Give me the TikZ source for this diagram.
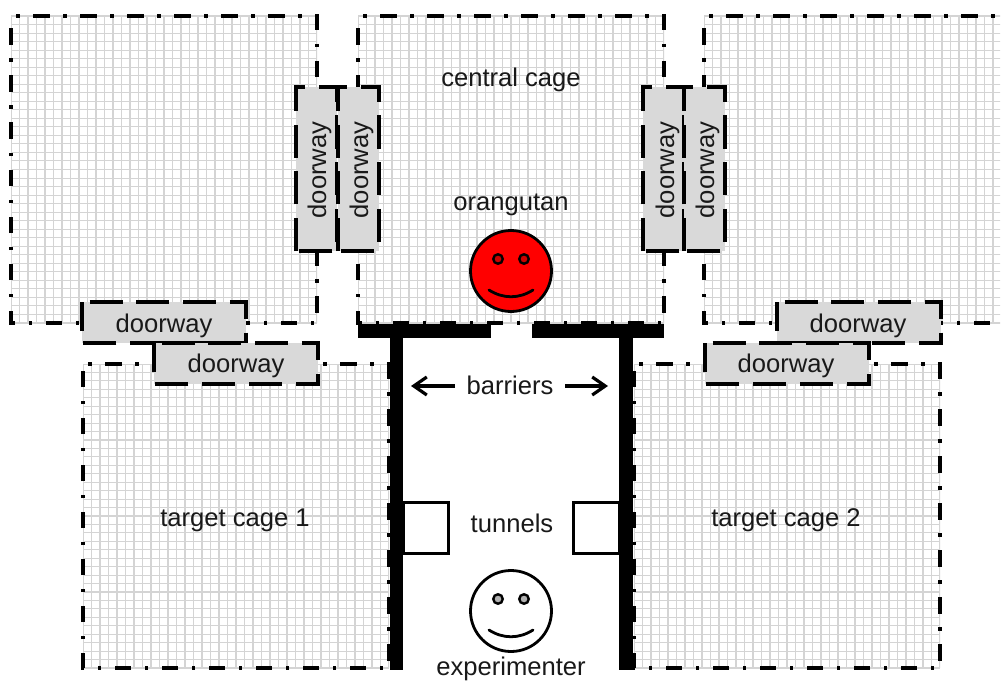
\documentclass[tikz,border=0pt]{standalone}
\usepackage{fontspec}
\setmainfont{Liberation Sans}
\newcommand{\roomcage}[4]{%
  % #1,#2 top-left; #3 width; #4 height
  \begin{scope}
    \clip (#1,#2) rectangle ({min(#1+#3,1000)},#2+#4);
    \fill[white] (#1,#2) rectangle (#1+#3,#2+#4);
    \foreach \i in {0,...,36} {
      \draw[gridline] ({#1+\i*#3/36},#2) -- ({#1+\i*#3/36},#2+#4);
      \draw[gridline] (#1,{#2+\i*#4/36}) -- (#1+#3,{#2+\i*#4/36});
    }
  \end{scope}
  \draw[cageline] (#1,#2) -- (#1+#3,#2) -- (#1+#3,#2+#4) -- (#1,#2+#4) -- cycle;
}
\newcommand{\doorh}[2]{%
  \fill[doorfill] (#1,#2) rectangle (#1+164,#2+41);
  \draw[doorline,dash phase=39] (#1,#2) -- (#1+164,#2) -- (#1+164,#2+41) -- (#1,#2+41) -- cycle;
}
\newcommand{\doorv}[2]{%
  \fill[doorfill] (#1,#2) rectangle (#1+41,#2+164);
  \draw[doorline,dash phase=0] (#1,#2+164) -- (#1,#2) -- (#1+41,#2) -- (#1+41,#2+164) -- cycle;
}
\newcommand{\smiley}[5]{%
  % #1 name, #2 x, #3 y, #4 fill, #5 eye fill
  \node[face,fill=#4] (#1) at (#2,#3) {};
  \node[eye,fill=#5] (#1eyeL) at (#2-13,#3-12) {};
  \node[eye,fill=#5] (#1eyeR) at (#2+13,#3-12) {};
  \draw[mouth] (#2-22,#3+19) .. controls (#2-8,#3+28) and (#2+8,#3+28) .. (#2+22,#3+19);
}
\tikzset{
  gridline/.style={draw=black!17,line width=1.05pt},
  cageline/.style={draw=black,line width=3.6pt,dash pattern=on 16.5pt off 13.5pt on 3.5pt off 13.5pt,dash phase=25pt,line join=miter},
  doorfill/.style={fill=black!15},
  doorline/.style={draw=black,line width=3.6pt,dash pattern=on 33pt off 13.7pt,line join=miter},
  barrier/.style={fill=black},
  tunnelbox/.style={draw=black,line width=3pt,fill=white},
  face/.style={circle,draw=black,line width=2.8pt,minimum size=81pt,inner sep=0pt},
  eye/.style={circle,draw=black,line width=2.4pt,minimum size=9.5pt,inner sep=0pt},
  mouth/.style={draw=black,line width=2.8pt,line cap=round},
  lab/.style={font=\fontsize{25.6pt}{28pt}\selectfont,text=black!90,inner sep=0pt,anchor=base},
  pointer/.style={draw=black,line width=3.2pt,-{Straight Barb[length=13pt,width=18pt,line width=3.2pt]}},
}
\usetikzlibrary{arrows.meta}
\begin{document}
\begin{tikzpicture}[x=1pt,y=-1pt]
\useasboundingbox (0,0) rectangle (1003,682);
\fill[white] (0,0) rectangle (1003,682);
\roomcage{11}{16}{306}{307}
\roomcage{358}{16}{306}{307}
\roomcage{704}{16}{306}{307}
\roomcage{83}{364}{306}{304}
\roomcage{634}{364}{306}{304}
\doorv{296}{87}
\doorv{338}{87}
\doorv{643}{87}
\doorv{684}{87}
\doorh{82}{302}
\doorh{154}{343}
\doorh{777}{302}
\doorh{705}{343}
% tunnels
\draw[tunnelbox] (403,502) rectangle (448,553);
\draw[tunnelbox] (573,502) rectangle (619,553);
% barriers
\fill[barrier] (358,324) rectangle (491,338);
\fill[barrier] (532,324) rectangle (664,338);
\fill[barrier] (390,324) rectangle (403,670);
\fill[barrier] (619,324) rectangle (633,670);
% faces
\smiley{orang}{511}{271}{red}{red!80!black}
\smiley{exper}{511}{611}{white}{black!30}
% labels
\node[lab] (lcentral) at (511,87) {central cage};
\node[lab] (lorang) at (511,210) {orangutan};
\node[lab] (lbarr) at (510,394) {barriers};
\node[lab] (ltunn) at (512,532) {tunnels};
\node[lab] (lexp) at (511,675.5) {experimenter};
\node[lab] (lt1) at (235,526) {target cage 1};
\node[lab] (lt2) at (786,526) {target cage 2};
\node[lab] (d1) at (164,332) {doorway};
\node[lab] (d2) at (236,372) {doorway};
\node[lab] (d3) at (858,332) {doorway};
\node[lab] (d4) at (786,372) {doorway};
\node[lab,rotate=90] (d5) at (326,170) {doorway};
\node[lab,rotate=90] (d6) at (368,170) {doorway};
\node[lab,rotate=90] (d7) at (674,170) {doorway};
\node[lab,rotate=90] (d8) at (714,170) {doorway};
% arrows
\coordinate (ltail) at (455,386);
\coordinate (ltip) at (411,386);
\coordinate (rtail) at (565,386);
\coordinate (rtip) at (608,386);
\draw[pointer] (ltail) -- (ltip);
\draw[pointer] (rtail) -- (rtip);
\end{tikzpicture}
\end{document}
